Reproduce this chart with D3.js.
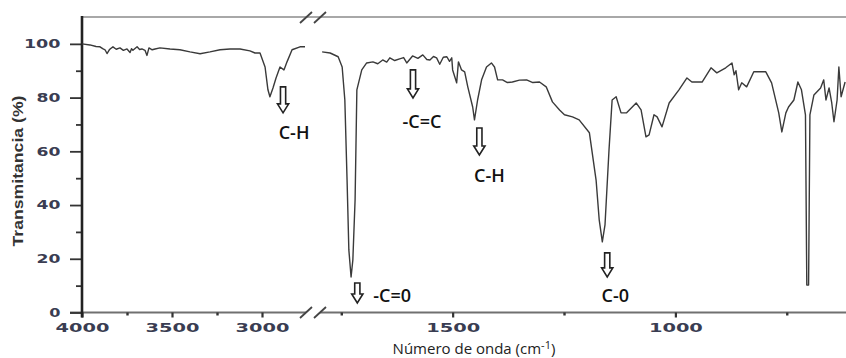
<!DOCTYPE html>
<html>
<head>
<meta charset="utf-8">
<script src="https://cdn.jsdelivr.net/npm/d3@7"></script>
<style>
  body { margin: 0; background: #fff; }
  svg { display: block; }
</style>
</head>
<body>
<svg id="chart"></svg>
<script>
const width = 846;
const height = 358;

// spectrum, left panel (4000 - 2750 cm-1)
const wnLeft = [4000, 3956, 3922, 3900, 3885, 3872, 3861, 3850, 3844, 3828, 3810, 3789, 3770, 3750, 3733, 3725, 3717,
  3694, 3680, 3667, 3650, 3639, 3628, 3610, 3594, 3567, 3511, 3456, 3400, 3344, 3289, 3233, 3178, 3122, 3067, 3039,
  3011, 2983, 2967, 2956, 2939, 2922, 2900, 2878, 2861, 2833, 2789, 2761];
const tLeft = [100, 99.6, 99.0, 98.9, 98.2, 97.8, 96.4, 97.6, 98.1, 98.9, 98.0, 98.5, 97.6, 98.1, 96.8, 98.2, 97.6,
  98.9, 97.9, 98.1, 97.6, 95.7, 98.5, 97.8, 98.1, 98.5, 98.1, 97.8, 97.0, 96.3, 97.0, 97.8, 98.1, 98.1, 97.4, 96.6,
  96.6, 91.4, 82.9, 80.3, 83.6, 87.3, 91.4, 90.3, 93.3, 97.8, 98.9, 98.9];

// spectrum, right panel (1800 - 617 cm-1)
const wnRight = [1793, 1775, 1757, 1748, 1742, 1737, 1733, 1728, 1724, 1719, 1715, 1704, 1693, 1679, 1668, 1657,
  1648, 1641, 1630, 1619, 1610, 1603, 1590, 1578, 1567, 1558, 1551, 1543, 1536, 1529, 1521, 1513, 1507, 1502, 1500,
  1491, 1487, 1480, 1473, 1466, 1455, 1451, 1444, 1435, 1424, 1413, 1406, 1399, 1388, 1377, 1366, 1350, 1334, 1320,
  1305, 1290, 1276, 1260, 1249, 1231, 1216, 1193, 1178, 1171, 1164, 1158, 1149, 1142, 1133, 1122, 1110, 1088, 1077,
  1066, 1059, 1048, 1041, 1030, 1014, 992, 974, 963, 940, 920, 907, 887, 873, 868, 864, 858, 851, 840, 824, 797, 784,
  768, 761, 752, 746, 734, 725, 717, 708, 705, 701, 698, 689, 674, 667, 662, 655, 649, 644, 637, 633, 628, 619];
const tRight = [97.0, 96.6, 95.2, 91.4, 79.1, 49.3, 23.3, 13.2, 19.6, 41.9, 82.9, 90.3, 92.9, 93.3, 92.6, 94.0,
  93.2, 94.8, 93.8, 94.4, 94.9, 92.9, 95.5, 94.6, 95.9, 94.2, 94.0, 95.3, 94.8, 92.4, 95.0, 95.2, 93.5, 94.8, 90.3,
  85.5, 93.3, 90.3, 89.6, 84.0, 76.5, 71.7, 79.1, 86.6, 91.4, 92.9, 91.4, 86.6, 86.6, 85.6, 85.8, 86.5, 86.6, 85.6,
  85.8, 84.0, 78.4, 75.4, 73.6, 72.8, 71.7, 66.9, 49.3, 34.5, 26.3, 32.6, 60.5, 79.1, 80.3, 74.3, 74.3, 78.0, 75.4,
  65.4, 66.1, 73.6, 72.8, 69.1, 78.0, 82.9, 87.3, 85.8, 85.8, 91.1, 89.2, 91.1, 92.9, 88.5, 90.0, 82.9, 85.5, 84.0,
  89.6, 89.6, 85.5, 74.3, 67.2, 74.3, 76.5, 79.1, 85.8, 82.9, 73.6, 10.2, 10.2, 73.6, 81.0, 83.6, 86.6, 79.1, 83.6,
  78.0, 71.0, 79.1, 91.4, 80.3, 85.8];

const yMajor = [0, 20, 40, 60, 80, 100];
const yMinor = [10, 30, 50, 70, 90];
const xMajorLeft = [4000, 3500, 3000];
const xMinorLeft = [3750, 3250];
const xMajorRight = [1500, 1000];
const xMinorRight = [1750, 1250, 750];

// band labels: text, wavenumber of the arrow, transmittance at arrow top
const noteText = ["C-H", "-C=C", "C-H", "-C=0", "C-0"];
const noteWn = [2883, 1589, 1440, 1714, 1153];
const noteT = [84.0, 90.3, 68.7, 11.0, 22.2];

const svg = d3.select("#chart")
  .attr("width", width)
  .attr("height", height)
  .attr("viewBox", [0, 0, width, height]);

const xLeft = d3.scaleLinear().domain([4000, 2750]).range([82, 307]);
const xRight = d3.scaleLinear().domain([1800, 617]).range([319, 846]);
const y = d3.scaleLinear().domain([0, 110]).range([312.5, 17]);

const tickFont = "'DejaVu Sans', Verdana, sans-serif";
const tickColor = "#3a3d52";

// top frame line
svg.append("line")
  .attr("x1", 82).attr("x2", width)
  .attr("y1", y(110)).attr("y2", y(110))
  .attr("stroke", "#a8a8a8")
  .attr("stroke-width", 2);

// bottom axis line, two pieces
svg.append("line")
  .attr("x1", 70).attr("x2", 306)
  .attr("y1", y(0)).attr("y2", y(0))
  .attr("stroke", "#707070").attr("stroke-width", 1.8);
svg.append("line")
  .attr("x1", 320).attr("x2", width)
  .attr("y1", y(0)).attr("y2", y(0))
  .attr("stroke", "#707070").attr("stroke-width", 1.8);

// break marks
function slashes(cy) {
  [300, 314].forEach(x0 => {
    svg.append("line")
      .attr("x1", x0).attr("y1", cy + 5.5)
      .attr("x2", x0 + 12).attr("y2", cy - 5.5)
      .attr("stroke", "#444").attr("stroke-width", 1.8);
  });
}
slashes(y(0));
slashes(y(110) + 0.5);

// x ticks
function xTicks(scale, major, minor) {
  const g = svg.append("g").attr("transform", `translate(0,${y(0)})`);
  g.call(d3.axisBottom(scale).tickValues(major).tickSize(5).tickSizeOuter(0).tickFormat(d3.format("d")))
    .call(s => s.select(".domain").remove());
  g.selectAll(".tick line").attr("stroke", "#333").attr("stroke-width", 2.2);
  g.selectAll(".tick text")
    .attr("font-family", tickFont)
    .attr("font-size", 12)
    .attr("font-weight", "bold")
    .attr("fill", tickColor)
    .attr("y", 19)
    .attr("dy", 0)
    .attr("textLength", 54)
    .attr("lengthAdjust", "spacingAndGlyphs");

  const m = svg.append("g").attr("transform", `translate(0,${y(0)})`);
  m.call(d3.axisBottom(scale).tickValues(minor).tickSize(3).tickSizeOuter(0).tickFormat(""))
    .call(s => s.select(".domain").remove());
  m.selectAll(".tick line").attr("stroke", "#333").attr("stroke-width", 2.4);
}
xTicks(xLeft, xMajorLeft, xMinorLeft);
xTicks(xRight, xMajorRight, xMinorRight);

// y axis
const gy = svg.append("g").attr("transform", "translate(82,0)");
gy.call(d3.axisLeft(y).tickValues(yMajor).tickSize(12).tickFormat(d3.format("d")))
  .call(s => s.select(".domain").remove());
gy.selectAll(".tick line").attr("stroke", "#333").attr("stroke-width", 1.8);
gy.selectAll(".tick text")
  .attr("font-family", tickFont)
  .attr("font-size", 12)
  .attr("font-weight", "bold")
  .attr("fill", tickColor)
  .attr("text-anchor", "start")
  .attr("x", d => -20 - String(d).length * 12.7)
  .attr("textLength", d => String(d).length * 12.7 - 1.5)
  .attr("lengthAdjust", "spacingAndGlyphs");

const gyMinor = svg.append("g").attr("transform", "translate(82,0)");
gyMinor.call(d3.axisLeft(y).tickValues(yMinor).tickSize(6).tickFormat(""))
  .call(s => s.select(".domain").remove());
gyMinor.selectAll(".tick line").attr("stroke", "#333").attr("stroke-width", 1.8);

svg.append("line")
  .attr("x1", 82).attr("x2", 82)
  .attr("y1", y(110) - 1).attr("y2", y(0) + 5)
  .attr("stroke", "#222")
  .attr("stroke-width", 2.6);

// spectrum
const lineLeft = d3.line().x(d => xLeft(d[0])).y(d => y(d[1]));
const lineRight = d3.line().x(d => xRight(d[0])).y(d => y(d[1]));

svg.append("path")
  .datum(d3.zip(wnLeft, tLeft))
  .attr("d", lineLeft)
  .attr("fill", "none")
  .attr("stroke", "#3a3a3a")
  .attr("stroke-width", 1.4)
  .attr("stroke-linejoin", "round");

svg.append("path")
  .datum(d3.zip(wnRight, tRight))
  .attr("d", lineRight)
  .attr("fill", "none")
  .attr("stroke", "#3a3a3a")
  .attr("stroke-width", 1.4)
  .attr("stroke-linejoin", "round");

// band annotations
const noteLayout = [
  { len: 26, dx: 11, dy: 26.5, anchor: "middle" },
  { len: 28, dx: 9, dy: 30.5, anchor: "middle" },
  { len: 27, dx: 10, dy: 27.5, anchor: "middle" },
  { len: 20, dx: 16, dy: -0.5, anchor: "start" },
  { len: 24, dx: 8, dy: 25.5, anchor: "middle" }
];

const notes = noteText.map((t, i) => ({
  text: t,
  x: noteWn[i] > 2000 ? xLeft(noteWn[i]) : xRight(noteWn[i]),
  top: y(noteT[i]),
  ...noteLayout[i]
}));

function arrowPath(cx, y0, L) {
  const s = 2.6, h = 5.6, hl = 9;
  return `M${cx - s},${y0}L${cx + s},${y0}L${cx + s},${y0 + L - hl}L${cx + h},${y0 + L - hl}` +
    `L${cx},${y0 + L}L${cx - h},${y0 + L - hl}L${cx - s},${y0 + L - hl}Z`;
}

const gNotes = svg.append("g");
gNotes.selectAll("path")
  .data(notes)
  .join("path")
    .attr("d", d => arrowPath(d.x, d.top, d.len))
    .attr("fill", "#fff")
    .attr("stroke", "#222")
    .attr("stroke-width", 1.6);

gNotes.selectAll("text")
  .data(notes)
  .join("text")
    .attr("x", d => d.x + d.dx)
    .attr("y", d => d.top + d.len + d.dy)
    .attr("text-anchor", d => d.anchor)
    .attr("font-family", "'Open Sans', sans-serif")
    .attr("font-size", 18)
    .attr("font-weight", 600)
    .attr("fill", "#111")
    .text(d => d.text);

// axis titles
const xt = svg.append("text")
  .attr("x", 474)
  .attr("y", 354)
  .attr("text-anchor", "middle")
  .attr("font-family", "'Open Sans', sans-serif")
  .attr("font-size", 15)
  .attr("font-weight", 500)
  .attr("fill", "#222");
xt.append("tspan").text("Número de onda (cm");
xt.append("tspan").attr("font-size", 11).attr("dy", -5).text("-1");
xt.append("tspan").attr("dy", 5).text(")");

svg.append("text")
  .attr("transform", "translate(23,171) rotate(-90)")
  .attr("text-anchor", "middle")
  .attr("font-family", "Arial, 'Liberation Sans', sans-serif")
  .attr("font-size", 14)
  .attr("font-weight", "bold")
  .attr("fill", "#333")
  .attr("textLength", 151)
  .attr("lengthAdjust", "spacingAndGlyphs")
  .text("Transmitancia (%)");
</script>
</body>
</html>
